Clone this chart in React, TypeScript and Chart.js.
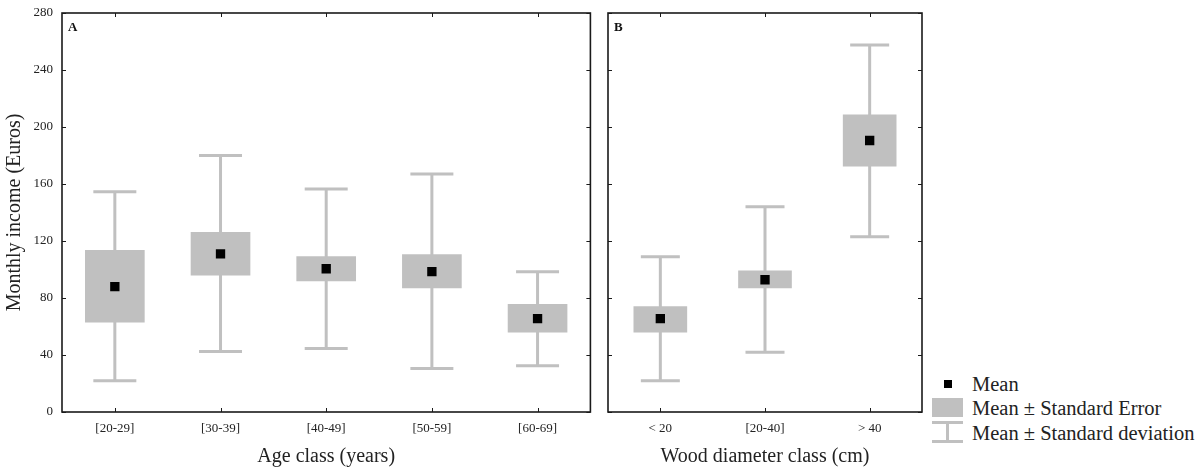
import React, { useEffect, useRef } from "react";
import { Chart, registerables } from "chart.js";

Chart.register(...registerables);

// ---------- data ----------
const ageClasses = ["[20-29]", "[30-39]", "[40-49]", "[50-59]", "[60-69]"];
const ageMean = [88, 111, 100.5, 98.5, 65.5];
const ageSeLow = [63, 96, 92, 87, 56];
const ageSeHigh = [113.5, 126, 109, 110.5, 75.5];
const ageSdLow = [22, 42.5, 44.5, 30.5, 32.5];
const ageSdHigh = [154.5, 180, 156.5, 167, 98.5];

const diamClasses = ["< 20", "[20-40]", "> 40"];
const diamMean = [65.5, 92.8, 190.5];
const diamSeLow = [56, 87, 172.5];
const diamSeHigh = [74, 99, 208.5];
const diamSdLow = [22, 42, 123];
const diamSdHigh = [109, 144, 257.5];

const yTicks = [0, 40, 80, 120, 160, 200, 240, 280];

const SERIF = '"Liberation Serif", "Times New Roman", serif';
const GRAY = "#c0c0c0";
const TEXT = "#222";

function makePlugins(label: string, sdLow: number[], sdHigh: number[], capHalf: number) {
  return [
    {
      id: "whiskers",
      beforeDatasetsDraw(chart: any) {
        const { ctx } = chart;
        const xs = chart.scales.x;
        const ys = chart.scales.y;
        ctx.save();
        ctx.strokeStyle = GRAY;
        ctx.lineWidth = 3;
        ctx.lineCap = "butt";
        sdLow.forEach((lo, i) => {
          const x = xs.getPixelForValue(i);
          const yl = ys.getPixelForValue(lo);
          const yh = ys.getPixelForValue(sdHigh[i]);
          ctx.beginPath();
          ctx.moveTo(x, yl);
          ctx.lineTo(x, yh);
          ctx.moveTo(x - capHalf, yl);
          ctx.lineTo(x + capHalf, yl);
          ctx.moveTo(x - capHalf, yh);
          ctx.lineTo(x + capHalf, yh);
          ctx.stroke();
        });
        ctx.restore();
      },
    },
    {
      id: "frame",
      afterDatasetsDraw(chart: any) {
        const { ctx, chartArea: a } = chart;
        const xs = chart.scales.x;
        const ys = chart.scales.y;
        ctx.save();
        ctx.strokeStyle = "#1a1a1a";
        ctx.lineWidth = 1.6;
        ctx.strokeRect(a.left, a.top, a.right - a.left, a.bottom - a.top);
        ctx.lineWidth = 1;
        ctx.beginPath();
        const tl = 4;
        yTicks.forEach((v) => {
          const y = Math.round(ys.getPixelForValue(v)) + 0.5;
          ctx.moveTo(a.left, y);
          ctx.lineTo(a.left + tl, y);
          ctx.moveTo(a.right, y);
          ctx.lineTo(a.right - tl, y);
        });
        xs.getLabels().forEach((_: any, i: number) => {
          const x = Math.round(xs.getPixelForValue(i)) + 0.5;
          ctx.moveTo(x, a.bottom);
          ctx.lineTo(x, a.bottom - tl);
          ctx.moveTo(x, a.top);
          ctx.lineTo(x, a.top + tl);
        });
        ctx.stroke();
        ctx.fillStyle = "#111";
        ctx.font = `bold 13px ${SERIF}`;
        ctx.textBaseline = "middle";
        ctx.textAlign = "left";
        ctx.fillText(label, a.left + 6, 28);
        ctx.restore();
      },
    },
  ];
}

function buildConfig(opts: {
  labels: string[];
  mean: number[];
  seLow: number[];
  seHigh: number[];
  sdLow: number[];
  sdHigh: number[];
  boxWidth: number;
  capHalf: number;
  panel: string;
  xTitle: string;
  showY: boolean;
  yWidth: number;
  padRight: number;
}): any {
  return {
    type: "bar",
    data: {
      labels: opts.labels,
      datasets: [
        {
          type: "line",
          label: "Mean",
          data: opts.mean,
          showLine: false,
          pointStyle: "rect",
          pointRadius: 6.6,
          pointBorderWidth: 0,
          pointBackgroundColor: "#000",
          borderColor: "#000",
          order: 0,
        },
        {
          type: "bar",
          label: "Mean ± Standard Error",
          data: opts.seLow.map((lo, i) => [lo, opts.seHigh[i]]),
          backgroundColor: GRAY,
          borderWidth: 0,
          barThickness: opts.boxWidth,
          grouped: false,
          order: 1,
        },
      ],
    },
    options: {
      responsive: false,
      animation: false,
      devicePixelRatio: 1,
      layout: { padding: { top: 13, right: opts.padRight, left: 0, bottom: 0 } },
      plugins: { legend: { display: false }, tooltip: { enabled: false } },
      scales: {
        x: {
          type: "category",
          grid: { display: false, drawTicks: false },
          border: { display: false },
          ticks: {
            color: TEXT,
            font: { family: SERIF, size: 13 },
            padding: 9,
            maxRotation: 0,
          },
          title: {
            display: true,
            text: opts.xTitle,
            color: TEXT,
            font: { family: SERIF, size: 20 },
            padding: { top: 0, bottom: 4 },
          },
          afterFit: (s: any) => {
            s.height = 61;
            s.paddingLeft = 0;
            s.paddingRight = 0;
          },
        },
        y: {
          min: 0,
          max: 280,
          grid: { display: false, drawTicks: false },
          border: { display: false },
          ticks: {
            display: opts.showY,
            stepSize: 40,
            color: TEXT,
            font: { family: SERIF, size: 13 },
            padding: 9,
          },
          title: {
            display: opts.showY,
            text: "Monthly income (Euros)",
            color: TEXT,
            font: { family: SERIF, size: 20 },
            padding: { top: 3, bottom: 0 },
          },
          afterFit: (s: any) => {
            s.width = opts.yWidth;
            s.paddingTop = 0;
            s.paddingBottom = 0;
          },
        },
      },
    },
    plugins: makePlugins(opts.panel, opts.sdLow, opts.sdHigh, opts.capHalf),
  };
}

export default function App() {
  const refA = useRef<HTMLCanvasElement>(null);
  const refB = useRef<HTMLCanvasElement>(null);

  useEffect(() => {
    const a = new Chart(
      refA.current as HTMLCanvasElement,
      buildConfig({
        labels: ageClasses,
        mean: ageMean,
        seLow: ageSeLow,
        seHigh: ageSeHigh,
        sdLow: ageSdLow,
        sdHigh: ageSdHigh,
        boxWidth: 59,
        capHalf: 21.5,
        panel: "A",
        xTitle: "Age class (years)",
        showY: true,
        yWidth: 62,
        padRight: 1,
      })
    );
    const b = new Chart(
      refB.current as HTMLCanvasElement,
      buildConfig({
        labels: diamClasses,
        mean: diamMean,
        seLow: diamSeLow,
        seHigh: diamSeHigh,
        sdLow: diamSdLow,
        sdHigh: diamSdHigh,
        boxWidth: 53,
        capHalf: 19.5,
        panel: "B",
        xTitle: "Wood diameter class (cm)",
        showY: false,
        yWidth: 8,
        padRight: 8,
      })
    );
    return () => {
      a.destroy();
      b.destroy();
    };
  }, []);

  const legendText: React.CSSProperties = {
    position: "absolute",
    left: 972,
    height: 24,
    lineHeight: "24px",
    fontFamily: SERIF,
    fontSize: 20.5,
    color: TEXT,
    whiteSpace: "nowrap",
  };

  return (
    <div
      style={{
        position: "fixed",
        left: 0,
        top: 0,
        width: 1200,
        height: 473,
        background: "#fff",
        overflow: "hidden",
      }}
    >
      <canvas
        ref={refA}
        width={597}
        height={473}
        style={{ position: "absolute", left: 0, top: 0, width: 597, height: 473 }}
      />
      <canvas
        ref={refB}
        width={330}
        height={473}
        style={{ position: "absolute", left: 600, top: 0, width: 330, height: 473 }}
      />
      {/* legend */}
      <div style={{ position: "absolute", left: 944, top: 380, width: 8, height: 8, background: "#000" }} />
      <div style={{ ...legendText, top: 372 }}>Mean</div>
      <div style={{ position: "absolute", left: 932, top: 398, width: 31, height: 19, background: GRAY }} />
      <div style={{ ...legendText, top: 396 }}>Mean ± Standard Error</div>
      <div style={{ position: "absolute", left: 932, top: 421, width: 31, height: 3, background: GRAY }} />
      <div style={{ position: "absolute", left: 946, top: 421, width: 3, height: 22, background: GRAY }} />
      <div style={{ position: "absolute", left: 932, top: 440, width: 31, height: 3, background: GRAY }} />
      <div style={{ ...legendText, top: 421 }}>Mean ± Standard deviation</div>
    </div>
  );
}
